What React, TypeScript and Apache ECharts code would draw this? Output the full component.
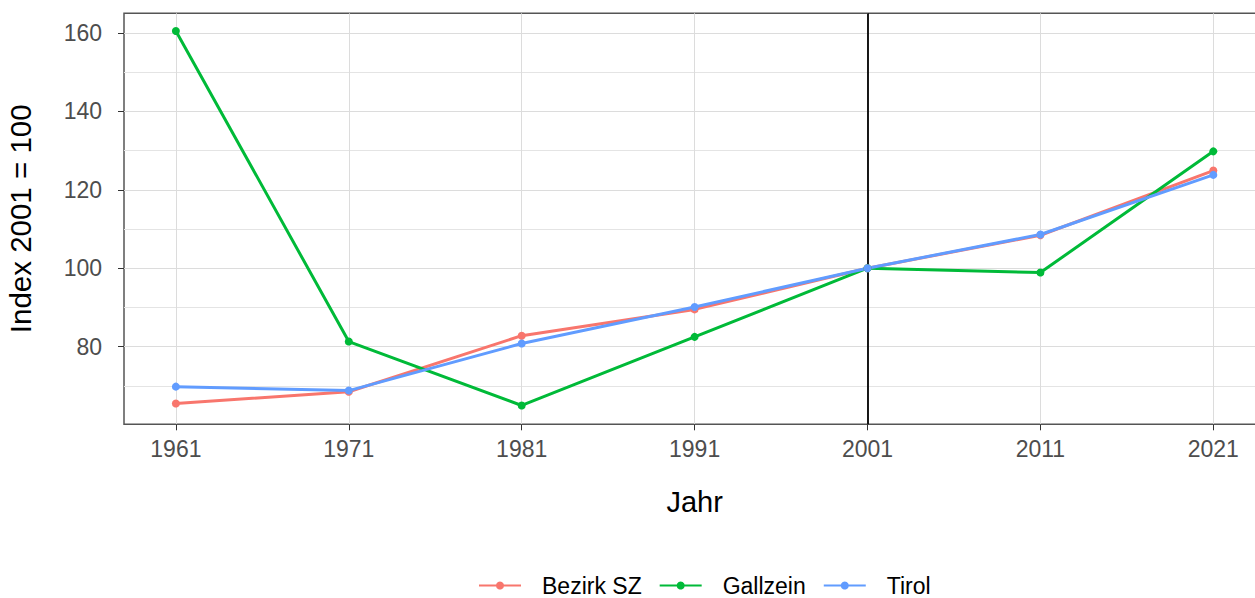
import React, { useEffect, useRef } from "react";
import * as echarts from "echarts";

const years = [1961, 1971, 1981, 1991, 2001, 2011, 2021];
const bezirkSZ = [65.5, 68.5, 82.8, 89.5, 100, 108.4, 124.9];
const gallzein = [160.5, 81.3, 65.0, 82.5, 100, 98.9, 129.8];
const tirol = [69.8, 68.8, 80.8, 90.1, 100, 108.6, 123.8];
const yMajorTicks = [80, 100, 120, 140, 160];
const yMinorTicks = [70, 90, 110, 130, 150];
const refYear = 2001;

const FONT = "'Liberation Sans', Arial, sans-serif";

function mk(name: string, color: string, vals: number[], withRef = false) {
  const s: any = {
    name,
    type: "line",
    data: years.map((y, i) => [y, vals[i]]),
    symbol: "circle",
    symbolSize: 8,
    lineStyle: { width: 3, color },
    itemStyle: { color },
    z: 3,
  };
  if (withRef) {
    s.markLine = {
      silent: true,
      symbol: "none",
      label: { show: false },
      lineStyle: { color: "#000", width: 1.8, type: "solid" },
      data: [{ xAxis: refYear }],
      z: 2,
    };
  }
  return s;
}

export default function App() {
  const ref = useRef<HTMLDivElement>(null);
  useEffect(() => {
    const chart = echarts.init(ref.current!, null, { renderer: "svg" });
    chart.setOption({
      animation: false,
      textStyle: { fontFamily: FONT },
      grid: [
        {
          left: 124,
          top: 13.3,
          right: 4.8,
          bottom: 173.7,
          outerBoundsMode: "none",
          containLabel: false,
          show: true,
          borderColor: "#555",
          borderWidth: 1.5,
          backgroundColor: "transparent",
        },
      ],
      legend: {
        top: 574,
        left: 478,
        padding: 0,
        itemWidth: 42,
        itemHeight: 10,
        itemGap: 17,
        textStyle: { fontSize: 23, color: "#000", fontFamily: FONT, padding: [0, 0, 0, 16] },
        data: ["Bezirk SZ", "Gallzein", "Tirol"],
      },
      xAxis: {
        type: "value",
        min: 1958,
        max: 2024,
        name: "Jahr",
        nameLocation: "middle",
        nameGap: 63,
        nameTextStyle: { fontSize: 29, color: "#000", fontFamily: FONT },
        axisLine: { show: false },
        axisTick: { show: true, customValues: years, length: 6, lineStyle: { color: "#333" } },
        axisLabel: {
          customValues: years,
          fontSize: 23,
          color: "#4d4d4d",
          margin: 13,
          formatter: (v: number) => String(v),
        },
        splitLine: { show: true, lineStyle: { color: "#dcdcdc", width: 1 } },
      },
      yAxis: [
        {
          type: "value",
          min: 60.2,
          max: 165,
          name: "Index 2001 = 100",
          nameLocation: "middle",
          nameGap: 89,
          nameTextStyle: { fontSize: 29.5, color: "#000", fontFamily: FONT },
          axisLine: { show: false },
          axisTick: { show: true, customValues: yMajorTicks, length: 6, lineStyle: { color: "#333" } },
          axisLabel: {
            customValues: yMajorTicks,
            fontSize: 23,
            color: "#4d4d4d",
            margin: 22,
          },
          splitLine: { show: true, lineStyle: { color: "#dcdcdc", width: 1 } },
        },
        {
          type: "value",
          min: 60.2,
          max: 165,
          position: "left",
          axisLine: { show: false },
          axisTick: { show: false, customValues: yMinorTicks },
          axisLabel: { show: false, customValues: yMinorTicks },
          splitLine: { show: true, lineStyle: { color: "#e4e4e4", width: 1 } },
        },
      ],
      series: [
        mk("Bezirk SZ", "#F8766D", bezirkSZ, true),
        mk("Gallzein", "#00BA38", gallzein),
        mk("Tirol", "#619CFF", tirol),
      ],
    });
    return () => chart.dispose();
  }, []);
  return (
    <div
      style={{
        position: "absolute",
        left: 0,
        top: 0,
        width: 1255,
        height: 598,
        overflow: "hidden",
        background: "#fff",
      }}
    >
      <div ref={ref} style={{ width: 1270, height: 598 }} />
    </div>
  );
}
